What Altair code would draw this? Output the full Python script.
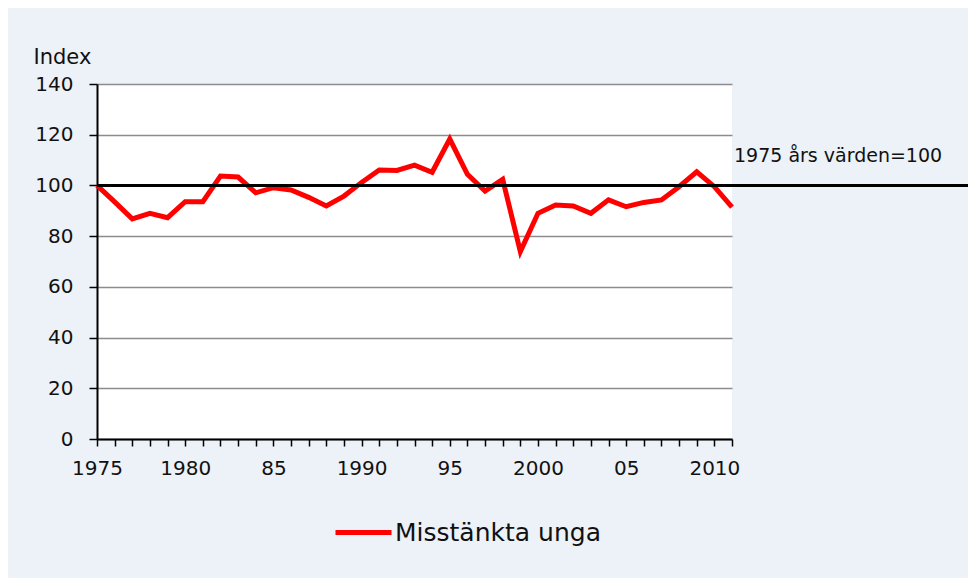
import altair as alt
import pandas as pd

years = list(range(1975, 2012))
values = [100, 93.5, 86.8, 89.0, 87.3, 93.6, 93.6, 103.7, 103.3, 97.1,
          99.1, 98.2, 95.3, 91.9, 95.8, 101.2, 106.1, 105.9, 108.0, 105.2,
          118.3, 104.4, 97.8, 102.4, 73.9, 89.0, 92.3, 91.9, 89.0, 94.3,
          91.6, 93.3, 94.3, 99.5, 105.4, 99.5, 91.4]
series_name = "Misstänkta unga"
label_years = [1975, 1980, 1985, 1990, 1995, 2000, 2005, 2010]
label_texts = ["1975", "1980", "85", "1990", "95", "2000", "05", "2010"]
y_ticks = [0, 20, 40, 60, 80, 100, 120, 140]
ref_value = 100
ref_text = "1975 års värden=100"

df = pd.DataFrame({"year": years, "value": values, "series": series_name})

label_expr = " : ".join(
    f"datum.value == {y} ? '{t}'" for y, t in zip(label_years, label_texts)
) + " : ''"

FONT = "DejaVu Sans"

x_enc = alt.X(
    "year:Q",
    scale=alt.Scale(domain=[years[0], years[-1]], nice=False, zero=False),
    axis=alt.Axis(
        values=years, tickCount=len(years) + 5, labelExpr=label_expr,
        title=None, grid=False,
        domainColor="black", domainWidth=2, tickColor="black", tickWidth=1.5,
        tickSize=7, labelPadding=12, labelFontSize=20, labelColor="#111",
        labelFont=FONT, labelFlush=False, labelOverlap=False,
    ),
)
y_enc = alt.Y(
    "value:Q",
    scale=alt.Scale(domain=[0, 140], nice=False),
    axis=alt.Axis(
        values=y_ticks, title="Index", titleAngle=0, titleAlign="left",
        titleBaseline="alphabetic", titleX=-64, titleY=-21, titleFontSize=21,
        titleFontWeight="normal", titleFont=FONT, titleColor="#111",
        grid=True, gridColor="#8c8c8c", gridWidth=1.5,
        domainColor="black", domainWidth=2, tickColor="black", tickWidth=1.5,
        tickSize=8, labelPadding=16, labelFontSize=20, labelColor="#111",
        labelFont=FONT,
    ),
)

line = alt.Chart(df).mark_line(strokeWidth=5, clip=False).encode(
    x=x_enc,
    y=y_enc,
    color=alt.Color(
        "series:N",
        scale=alt.Scale(domain=[series_name], range=["#ff0000"]),
        legend=alt.Legend(
            title=None, orient="none", legendX=236, legendY=418,
            symbolType="stroke", symbolSize=3136, symbolStrokeWidth=5,
            labelFontSize=25, labelFont=FONT, labelColor="#111",
            labelOffset=1, padding=0, labelLimit=500,
        ),
    ),
)

ref_df = pd.DataFrame({"x": [years[0]], "x2": [2025], "y": [ref_value]})

rule = alt.Chart(ref_df).mark_rule(color="black", strokeWidth=3, clip=False).encode(
    x="x:Q", x2="x2:Q", y="y:Q"
)

text_df = pd.DataFrame({"x": [years[-1]], "y": [ref_value], "label": [ref_text]})
text = alt.Chart(text_df).mark_text(
    align="left", baseline="alphabetic", dx=2, dy=-23, fontSize=19,
    font=FONT, color="#111",
).encode(x="x:Q", y="y:Q", text="label:N")

chart = alt.layer(line, rule, text).properties(
    width=635, height=355,
    autosize=alt.AutoSizeParams(type="none"),
    padding={"left": 89, "top": 76, "right": 236, "bottom": 139},
    background="#edf1f8",
).configure_view(fill="white", stroke=None)

chart.save("out.html", embed_options={"renderer": "svg", "actions": False})
